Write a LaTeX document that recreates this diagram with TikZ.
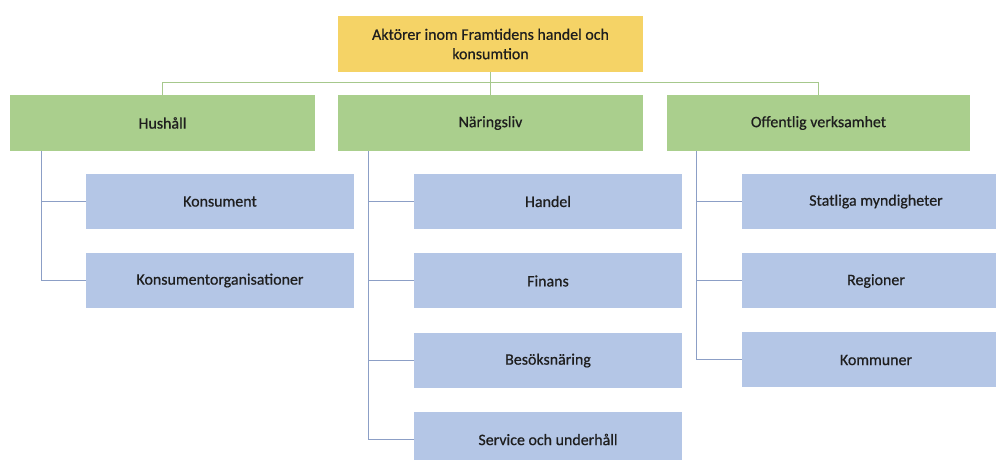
\documentclass[tikz,border=0pt]{standalone}
\usepackage{fontspec}
\setmainfont[FakeBold=0.6]{Carlito}
\definecolor{gold}{HTML}{F5D366}
\definecolor{grn}{HTML}{AACF8D}
\definecolor{blu}{HTML}{B4C6E6}
\definecolor{gln}{HTML}{A6C88C}
\definecolor{bln}{HTML}{8C9FC6}
\definecolor{txt}{HTML}{1E1E1E}
\tikzset{
  box/.style={rectangle, inner sep=0pt, text=txt, font=\fontsize{16}{19.5}\selectfont, align=center, minimum height=55bp},
  topbox/.style={box, fill=gold, minimum width=305bp, minimum height=56bp},
  gbox/.style={box, fill=grn, minimum width=305bp, minimum height=56bp},
  cbox/.style={box, fill=blu, minimum width=268bp},
  gline/.style={draw=gln, line width=1bp},
  bline/.style={draw=bln, line width=1bp},
}
\begin{document}
\begin{tikzpicture}[x=1bp,y=-1bp]
\useasboundingbox (0,0) rectangle (996,460);
\clip (0,0) rectangle (996,460);
\fill[white] (0,0) rectangle (996,460);
% top
\node[topbox] (top) at (490.5,44) {Aktörer inom Framtidens handel och\\konsumtion};
% level 1
\node[gbox] (hush) at (162.5,123) {Hushåll};
\node[gbox] (naer) at (490.5,123) {Näringsliv};
\node[gbox, minimum width=303bp] (off) at (818.5,123) {Offentlig verksamhet};
% level 2
\node[cbox] (kons) at (220,201.5) {Konsument};
\node[cbox] (korg) at (220,280.5) {Konsumentorganisationer};
\node[cbox] (hand) at (548,201.5) {Handel};
\node[cbox] (fin) at (548,281) {Finans};
\node[cbox] (bes) at (548,360.5) {Besöksnäring};
\node[cbox] (serv) at (548,439.5) {Service och underhåll};
\node[cbox] (stat) at (876,201.5) {Statliga myndigheter};
\node[cbox] (reg) at (876,281) {Regioner};
\node[cbox] (komm) at (876,360) {Kommuner};
% connectors
\draw[gline] (top.south) -- (naer.north);
\draw[gline] (hush.north) -- ++(0,-12) -| (off.north);
\draw[bline] ([xshift=32bp]hush.south west) |- (kons.west);
\draw[bline] ([xshift=32bp]hush.south west) |- (korg.west);
\draw[bline] ([xshift=31bp]naer.south west) |- (hand.west);
\draw[bline] ([xshift=31bp]naer.south west) |- (fin.west);
\draw[bline] ([xshift=31bp]naer.south west) |- (bes.west);
\draw[bline] ([xshift=31bp]naer.south west) |- (serv.west);
\draw[bline] ([xshift=30bp]off.south west) |- (stat.west);
\draw[bline] ([xshift=30bp]off.south west) |- (reg.west);
\draw[bline] ([xshift=30bp]off.south west) |- (komm.west);
\end{tikzpicture}
\end{document}
